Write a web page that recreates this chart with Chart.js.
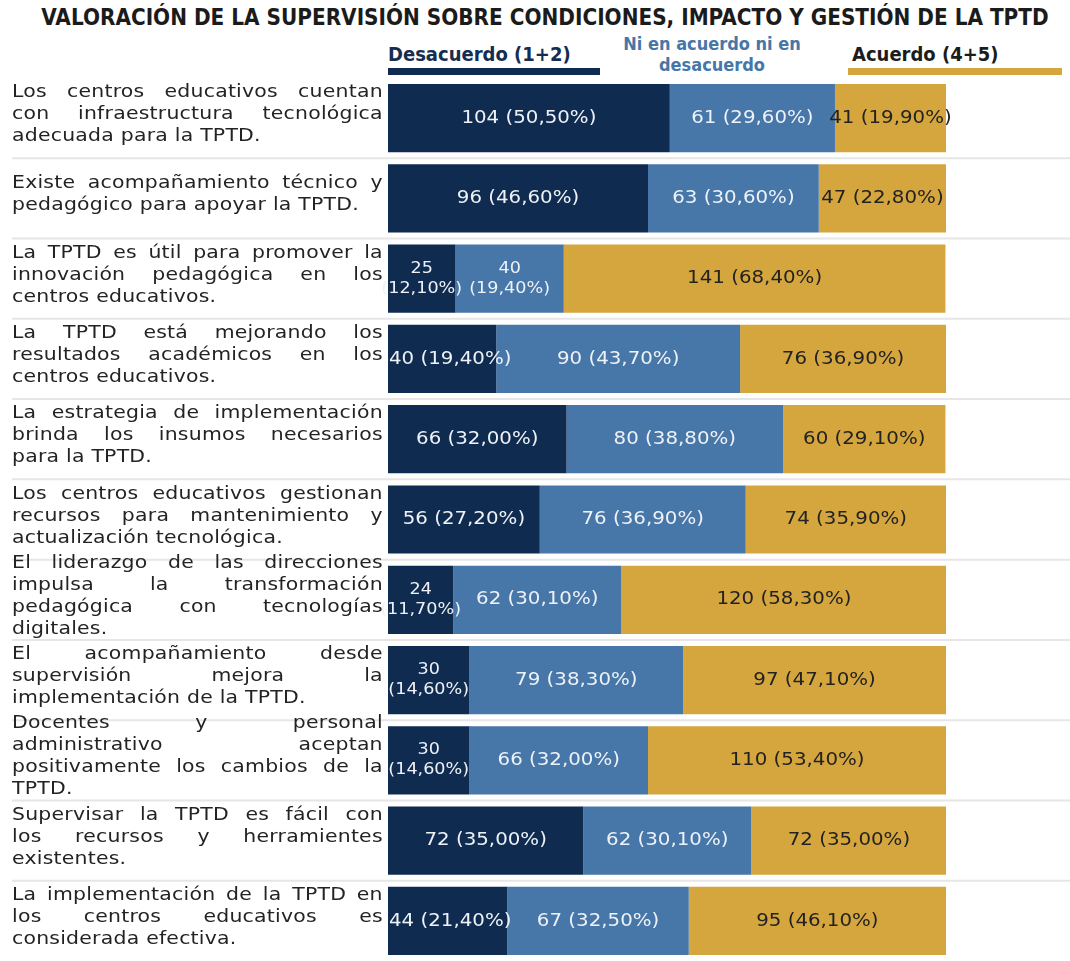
<!DOCTYPE html>
<html lang="es">
<head>
<meta charset="utf-8">
<script src="https://cdn.jsdelivr.net/npm/chart.js@4.4.1/dist/chart.umd.min.js"></script>
<style>
  html, body { margin: 0; padding: 0; background: #fff; }
  body { width: 1070px; height: 961px; position: relative; overflow: hidden; font-family: "DejaVu Sans", sans-serif; }
  #title { position: absolute; left: 10px; top: 4px; width: 1070px; text-align: center; white-space: nowrap;
           font-family: "DejaVu Sans Condensed", "DejaVu Sans", sans-serif; font-weight: bold; font-size: 22.3px; color: #1b1b1b; }
  .leg { position: absolute; font-family: "DejaVu Sans Condensed", "DejaVu Sans", sans-serif; font-weight: bold; font-size: 20px; line-height: 21px; white-space: nowrap; }
  .leg-bar { position: absolute; height: 7px; }
  #chart { position: absolute; left: 0; top: 0; }
  /* the original is stretched horizontally, so the labels are too */
  .row-label { position: absolute; left: 12px; width: 309px; transform: scaleX(1.2); transform-origin: left top;
               font-size: 17px; line-height: 22px; color: #232323; letter-spacing: 0.2px; }
  .row-label div { text-align: justify; text-align-last: justify; }
  .row-label div:last-child { text-align-last: left; }
</style>
</head>
<body>
<div id="title">VALORACIÓN DE LA SUPERVISIÓN SOBRE CONDICIONES, IMPACTO Y GESTIÓN DE LA TPTD</div>
<div id="legend"></div>
<canvas id="chart" width="1070" height="961"></canvas>
<div id="labels"></div>

<script>
// categories, one entry per statement, split in the lines of the original
const categories = [
  ["Los centros educativos cuentan", "con infraestructura tecnológica", "adecuada para la TPTD."],
  ["Existe acompañamiento técnico y", "pedagógico para apoyar la TPTD."],
  ["La TPTD es útil para promover la", "innovación pedagógica en los", "centros educativos."],
  ["La TPTD está mejorando los", "resultados académicos en los", "centros educativos."],
  ["La estrategia de implementación", "brinda los insumos necesarios", "para la TPTD."],
  ["Los centros educativos gestionan", "recursos para mantenimiento y", "actualización tecnológica."],
  ["El liderazgo de las direcciones", "impulsa la transformación", "pedagógica con tecnologías", "digitales."],
  ["El acompañamiento desde", "supervisión mejora la", "implementación de la TPTD."],
  ["Docentes y personal", "administrativo aceptan", "positivamente los cambios de la", "TPTD."],
  ["Supervisar la TPTD es fácil con", "los recursos y herramientes", "existentes."],
  ["La implementación de la TPTD en", "los centros educativos es", "considerada efectiva."]
];

const seriesNames = ["Desacuerdo (1+2)", "Ni en acuerdo ni en desacuerdo", "Acuerdo (4+5)"];

const desacuerdoN   = [104, 96, 25, 40, 66, 56, 24, 30, 30, 72, 44];
const desacuerdoPct = [50.5, 46.6, 12.1, 19.4, 32.0, 27.2, 11.7, 14.6, 14.6, 35.0, 21.4];
const neutralN      = [61, 63, 40, 90, 80, 76, 62, 79, 66, 62, 67];
const neutralPct    = [29.6, 30.6, 19.4, 43.7, 38.8, 36.9, 30.1, 38.3, 32.0, 30.1, 32.5];
const acuerdoN      = [41, 47, 141, 76, 60, 74, 120, 97, 110, 72, 95];
const acuerdoPct    = [19.9, 22.8, 68.4, 36.9, 29.1, 35.9, 58.3, 47.1, 53.4, 35.0, 46.1];

const colors = ['#0f2b50', '#4776a8', '#d5a63d'];
const textColors = ['#eef2f7', '#eef2f7', '#222222'];

// legend (html, above the bars)
const legend = document.getElementById('legend');
legend.innerHTML = `
  <div class="leg" style="left:388px; top:44px; color:#142d50">${seriesNames[0]}</div>
  <div class="leg-bar" style="left:388px; top:68px; width:212px; background:${colors[0]}"></div>
  <div class="leg" style="left:612px; top:33px; width:200px; text-align:center; font-size:18px; color:${colors[1]}">Ni en acuerdo ni en<br>desacuerdo</div>
  <div class="leg" style="left:852px; top:44px; color:#1c1c1c">${seriesNames[2]}</div>
  <div class="leg-bar" style="left:848px; top:68px; width:214px; background:${colors[2]}"></div>`;

// row labels (justified html text)
const labelBox = document.getElementById('labels');
const labelEls = categories.map(lines => {
  const el = document.createElement('div');
  el.className = 'row-label';
  el.innerHTML = lines.map(l => `<div>${l}</div>`).join('');
  labelBox.appendChild(el);
  return el;
});

const fmt = v => v.toFixed(2).replace('.', ',');
const STRETCH = 1.1; // horizontal stretch of the value labels

const separators = {
  id: 'separators',
  beforeDatasetsDraw(chart) {
    const y = chart.scales.y, c = chart.ctx;
    c.save();
    c.strokeStyle = '#e6e6e6';
    c.lineWidth = 2;
    for (let i = 0; i < categories.length - 1; i++) {
      const py = (y.getPixelForValue(i) + y.getPixelForValue(i + 1)) / 2;
      c.beginPath();
      c.moveTo(12, py);
      c.lineTo(chart.width, py);
      c.stroke();
    }
    c.restore();
  }
};

function stretchedText(c, txt, x, y) {
  c.save();
  c.translate(x, y);
  c.scale(STRETCH, 1);
  c.fillText(txt, 0, 0);
  c.restore();
}

const valueLabels = {
  id: 'valueLabels',
  afterDatasetsDraw(chart) {
    const c = chart.ctx;
    c.save();
    c.textAlign = 'center';
    c.textBaseline = 'middle';
    chart.data.datasets.forEach((ds, di) => {
      chart.getDatasetMeta(di).data.forEach((bar, i) => {
        let cx = (bar.x + bar.base) / 2;
        const pct = ds.data[i];
        const n = ds.counts[i];
        c.fillStyle = textColors[di];
        const split = pct < 15 || (di === 1 && pct < 20);
        if (split) {
          c.font = '16px "DejaVu Sans"';
          stretchedText(c, String(n), cx, bar.y - 10);
          stretchedText(c, `(${fmt(pct)}%)`, cx, bar.y + 10);
        } else {
          c.font = '18px "DejaVu Sans"';
          const txt = `${n} (${fmt(pct)}%)`;
          const w = c.measureText(txt).width * STRETCH;
          // keep the first segment's text inside the bar start
          if (di === 0 && cx - w / 2 < bar.base + 1) cx = bar.base + 1 + w / 2;
          stretchedText(c, txt, cx, bar.y);
        }
      });
    });
    c.restore();
  }
};

const placeLabels = {
  id: 'placeLabels',
  afterRender(chart) {
    const y = chart.scales.y;
    labelEls.forEach((el, i) => {
      el.style.top = (y.getPixelForValue(i) - el.offsetHeight / 2 - 5) + 'px';
    });
  }
};

new Chart(document.getElementById('chart'), {
  type: 'bar',
  data: {
    labels: categories.map(l => l.join(' ')),
    datasets: [
      { label: seriesNames[0], data: desacuerdoPct, counts: desacuerdoN, backgroundColor: colors[0] },
      { label: seriesNames[1], data: neutralPct, counts: neutralN, backgroundColor: colors[1] },
      { label: seriesNames[2], data: acuerdoPct, counts: acuerdoN, backgroundColor: colors[2] }
    ].map(d => ({ ...d, barPercentage: 0.85, categoryPercentage: 1.0, borderWidth: 0 }))
  },
  options: {
    indexAxis: 'y',
    responsive: false,
    animation: false,
    layout: { padding: { left: 388, right: 124, top: 78, bottom: 0 } },
    scales: {
      x: { stacked: true, min: 0, max: 100, display: false },
      y: { stacked: true, display: false }
    },
    plugins: {
      legend: { display: false },
      tooltip: { enabled: false }
    }
  },
  plugins: [separators, valueLabels, placeLabels]
});
</script>
</body>
</html>
